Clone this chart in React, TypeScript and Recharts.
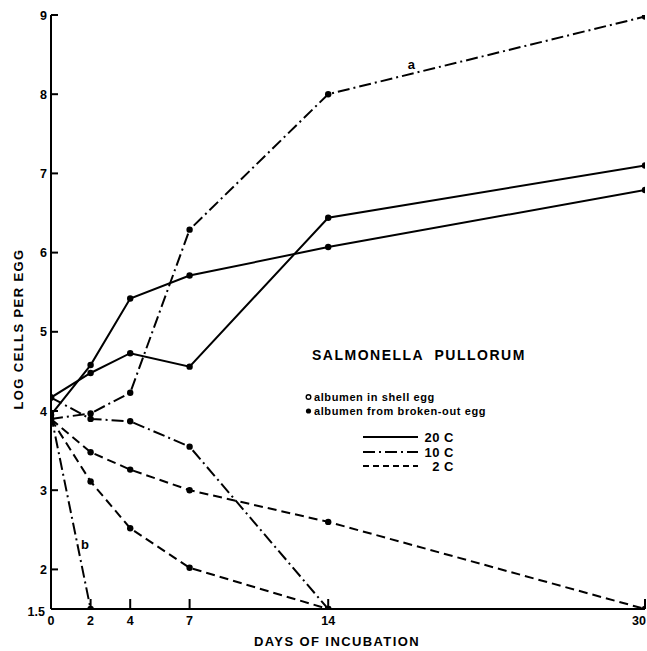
import React from 'react';
import { LineChart, Line, XAxis, YAxis, ReferenceDot } from 'recharts';

// Days of incubation (x values)
const days = [0, 2, 4, 7, 14, 30];

// 20 C (solid)
const solid20A = [3.95, 4.58, 5.42, 5.71, 6.07, 6.79];
const solid20B = [4.17, 4.48, 4.73, 4.56, 6.44, 7.1];
// 10 C (dash-dot)
const dashDot10a = [3.9, 3.97, 4.23, 6.29, 8.0, 8.98];
const dashDot10B = [4.17, 3.9, 3.87, 3.55, 1.5];
const dashDot10b = [3.95, 1.5];
// 2 C (dashed)
const dashed2A = [3.9, 3.48, 3.26, 3.0, 2.6, 1.5];
const dashed2B = [3.9, 3.11, 2.52, 2.02, 1.5];

const yTicks = [1.5, 2, 3, 4, 5, 6, 7, 8, 9];
const xTicks = [0, 2, 4, 7, 14, 30];

const annotA = { day: 18.2, v: 8.37, text: 'a' };
const annotB = { day: 1.72, v: 2.31, text: 'b' };

const FONT = '"Liberation Sans", Arial, Helvetica, sans-serif';

const toPoints = (vals: number[]) => vals.map((v, i) => ({ day: days[i], v }));

const DASHDOT = '12 4 2 4';
const DASHED = '9 5';

const YTick = (props: any) => {
  const { x, y, payload } = props;
  const v = payload.value;
  return (
    <g>
      {v !== 1.5 && <line x1={x} x2={x + 7} y1={y} y2={y} stroke="#000" strokeWidth={2} />}
      <text
        x={x - (v === 1.5 ? 6 : 4)}
        y={y}
        dy={v === 1.5 ? 7 : 4.5}
        textAnchor="end"
        fontSize={12.5}
        fontWeight="bold"
        fontFamily={FONT}
        fill="#000"
      >
        {v}
      </text>
    </g>
  );
};

const XTick = (props: any) => {
  const { x, y, payload } = props;
  const v = payload.value;
  const last = v === 30;
  return (
    <g>
      {v !== 0 && <line x1={x} x2={x} y1={y} y2={y - 10} stroke="#000" strokeWidth={2} />}
      <text
        x={last ? 646 : x}
        y={y + 16}
        textAnchor={last ? 'end' : 'middle'}
        fontSize={12.5}
        fontWeight="bold"
        fontFamily={FONT}
        fill="#000"
      >
        {v}
      </text>
    </g>
  );
};

const filledDot = (props: any) => {
  const { cx, cy } = props;
  if (cx == null || cy == null) return <g key={`f-${props.index}`} />;
  return <circle key={`f-${cx}-${cy}`} cx={cx} cy={cy} r={3.2} fill="#000" stroke="none" />;
};

const labelShape = (text: string) => (props: any) => {
  const { cx, cy } = props;
  return (
    <text x={cx} y={cy} dy={4} textAnchor="middle" fontSize={13} fontWeight="bold" fontFamily={FONT} fill="#000">
      {text}
    </text>
  );
};

const series = [
  { name: 's20A', vals: solid20A, dash: undefined },
  { name: 's20B', vals: solid20B, dash: undefined },
  { name: 'd10a', vals: dashDot10a, dash: DASHDOT },
  { name: 'd10B', vals: dashDot10B, dash: DASHDOT },
  { name: 'd10b', vals: dashDot10b, dash: DASHDOT },
  { name: 'd2A', vals: dashed2A, dash: DASHED },
  { name: 'd2B', vals: dashed2B, dash: DASHED },
];

const txt = { fontFamily: FONT, fontWeight: 'bold' as const, fill: '#000' };

export default function App() {
  return (
    <div style={{ position: 'absolute', left: 0, top: 0, width: 647, height: 651, background: '#fff', overflow: 'hidden' }}>
      <LineChart width={647} height={651} margin={{ top: 15, right: 2, left: 0, bottom: 0 }}>
        <XAxis
          type="number"
          dataKey="day"
          domain={[0, 30]}
          ticks={xTicks}
          height={42}
          axisLine={{ stroke: '#000', strokeWidth: 2 }}
          tickLine={false}
          tickSize={0}
          tickMargin={0}
          tick={<XTick />}
          allowDataOverflow
          interval={0}
        />
        <YAxis
          type="number"
          dataKey="v"
          domain={[1.5, 9]}
          ticks={yTicks}
          width={51}
          axisLine={{ stroke: '#000', strokeWidth: 2 }}
          tickLine={false}
          tickSize={0}
          tickMargin={0}
          tick={<YTick />}
          allowDataOverflow
          interval={0}
        />
        {series.map((s) => (
          <Line
            key={s.name}
            data={toPoints(s.vals)}
            dataKey="v"
            type="linear"
            stroke="#000"
            strokeWidth={2}
            strokeDasharray={s.dash}
            dot={filledDot}
            activeDot={false}
            isAnimationActive={false}
          />
        ))}
        <ReferenceDot x={annotA.day} y={annotA.v} r={0} shape={labelShape(annotA.text)} />
        <ReferenceDot x={annotB.day} y={annotB.v} r={0} shape={labelShape(annotB.text)} />
      </LineChart>
      <svg
        width={647}
        height={651}
        style={{ position: 'absolute', left: 0, top: 0, pointerEvents: 'none' }}
      >
        {/* axis titles */}
        <text x={337} y={646} textAnchor="middle" fontSize={13} letterSpacing={1.4} {...txt}>
          DAYS OF INCUBATION
        </text>
        <text
          x={0}
          y={0}
          transform="translate(23,329) rotate(-90)"
          textAnchor="middle"
          fontSize={13}
          letterSpacing={1.4}
          {...txt}
        >
          LOG CELLS PER EGG
        </text>
        {/* legend */}
        <text x={312} y={360} fontSize={14} letterSpacing={1.5} style={{ whiteSpace: 'pre' }} {...txt}>
          {'SALMONELLA  PULLORUM'}
        </text>
        <circle cx={308.5} cy={397} r={2.3} fill="#fff" stroke="#000" strokeWidth={1.4} />
        <text x={314} y={401} fontSize={11} letterSpacing={0.6} {...txt}>
          albumen in shell egg
        </text>
        <circle cx={308.5} cy={411} r={2.6} fill="#000" />
        <text x={314} y={415} fontSize={11} letterSpacing={0.6} {...txt}>
          albumen from broken-out egg
        </text>
        <line x1={363} x2={418} y1={437} y2={437} stroke="#000" strokeWidth={2} />
        <text x={454} y={441.5} textAnchor="end" fontSize={13} letterSpacing={0.5} {...txt}>20 C</text>
        <line x1={363} x2={418} y1={452} y2={452} stroke="#000" strokeWidth={2} strokeDasharray="12 4 2 4" />
        <text x={454} y={456.5} textAnchor="end" fontSize={13} letterSpacing={0.5} {...txt}>10 C</text>
        <line x1={363} x2={418} y1={466} y2={466} stroke="#000" strokeWidth={2} strokeDasharray="6 4" />
        <text x={454} y={470.5} textAnchor="end" fontSize={13} letterSpacing={0.5} {...txt}>2 C</text>
      </svg>
    </div>
  );
}
